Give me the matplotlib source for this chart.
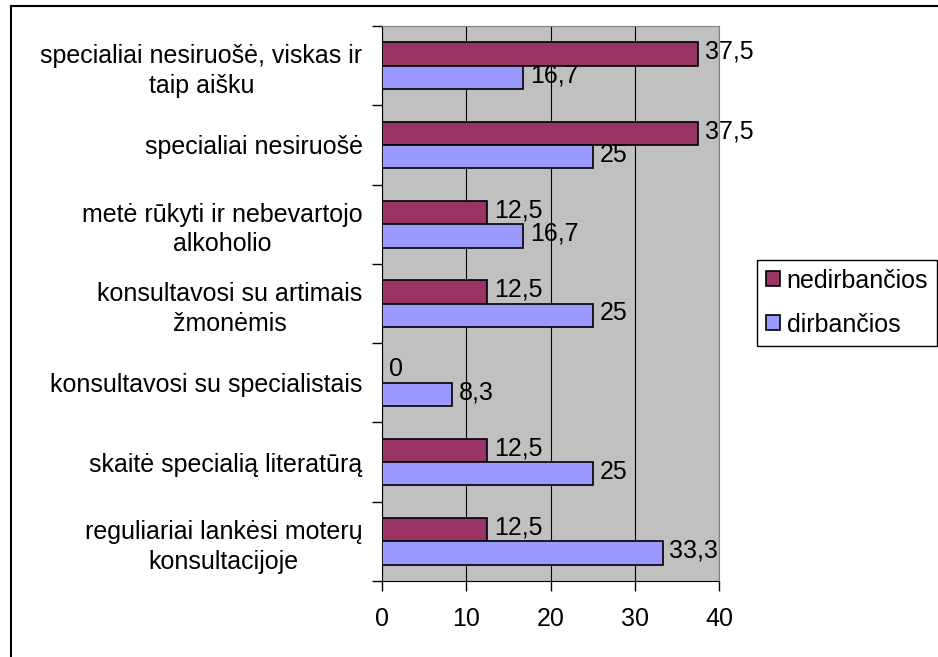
import numpy as np
import matplotlib.pyplot as plt
from matplotlib.lines import Line2D

plt.rcParams['font.family'] = ['Liberation Sans', 'DejaVu Sans']

# data, top to bottom
categories = ['specialiai nesiruošė, viskas ir\ntaip aišku',
              'specialiai nesiruošė',
              'metė rūkyti ir nebevartojo\nalkoholio',
              'konsultavosi su artimais\nžmonėmis',
              'konsultavosi su specialistais',
              'skaitė specialią literatūrą',
              'reguliariai lankėsi moterų\nkonsultacijoje']
nedirbancios = [37.5, 37.5, 12.5, 12.5, 0, 12.5, 12.5]
dirbancios = [16.7, 25, 16.7, 25, 8.3, 25, 33.3]
xticks = [0, 10, 20, 30, 40]

W, H = 938, 657
fig = plt.figure(figsize=(W/100, H/100), dpi=100)
ax = fig.add_axes([382/W, 1-581/H, 337/W, 555/H])
ax.set_facecolor('#C0C0C0')

n = len(categories)
y = np.arange(n)[::-1] + 0.5   # category centres, first at top
bh = 0.294
fs = 18

b1 = ax.barh(y + bh/2, nedirbancios, height=bh, color='#993366', edgecolor='black', linewidth=1.2, zorder=3, label='nedirbančios')
b2 = ax.barh(y - bh/2, dirbancios, height=bh, color='#9999FF', edgecolor='black', linewidth=1.2, zorder=3, label='dirbančios')

def fmt(v):
    s = ('%.1f' % v).rstrip('0').rstrip('.')
    return s.replace('.', ',')

for bars, vals in [(b1, nedirbancios), (b2, dirbancios)]:
    for b, v in zip(bars, vals):
        ax.annotate(fmt(v), (v, b.get_y() + b.get_height()/2), xytext=(5, 1.5),
                    textcoords='offset points', ha='left', va='center', fontsize=fs, zorder=4)

ax.set_xlim(0, 40)
ax.set_ylim(0, n)
ax.set_xticks(xticks)
ax.set_xticklabels([str(t) for t in xticks], fontsize=fs)
ax.xaxis.grid(True, color='black', linewidth=0.8, zorder=1)
ax.set_axisbelow(True)

ax.set_yticks(np.arange(n + 1))
ax.set_yticklabels([])
ax.set_yticks(y, minor=True)
ax.set_yticklabels(categories, minor=True, fontsize=fs, multialignment='center', linespacing=1.3)
ax.tick_params(axis='y', which='minor', length=0, pad=14)
ax.tick_params(axis='y', which='major', length=7, direction='out', width=1)
ax.tick_params(axis='x', length=7, direction='out', width=1, pad=12)

for s in ['top', 'right']:
    ax.spines[s].set_color('#808080')
ax.spines['left'].set_color('black')
ax.spines['bottom'].set_color('black')

leg = ax.legend(handles=[b1, b2], loc='center right', bbox_to_anchor=(937/W, 1-302.5/H),
                bbox_transform=fig.transFigure, fontsize=fs, fancybox=False,
                edgecolor='black', framealpha=1, handlelength=0.55, handleheight=0.55,
                handletextpad=0.28, borderpad=0.36, labelspacing=0.8, borderaxespad=0)
leg.get_frame().set_linewidth(1)

# outer chart frame
fig.add_artist(Line2D([11/W, 11/W], [0, 1-6/H], color='black', linewidth=1.5, transform=fig.transFigure))
fig.add_artist(Line2D([11/W, 1], [1-6/H, 1-6/H], color='black', linewidth=1.5, transform=fig.transFigure))

fig.savefig('out.png', dpi=100)
